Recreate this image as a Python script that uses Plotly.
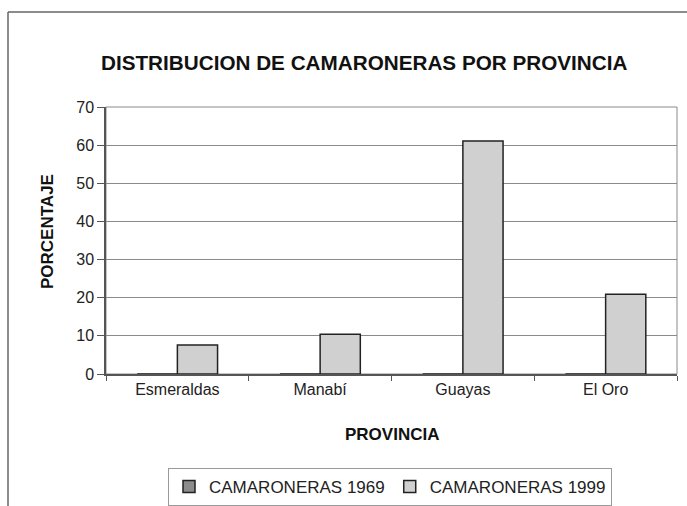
import plotly.graph_objects as go

provincias = ["Esmeraldas", "Manabí", "Guayas", "El Oro"]
camaroneras_1969 = [0, 0, 0, 0]
camaroneras_1999 = [7.6, 10.4, 61.1, 20.9]
y_ticks = [0, 10, 20, 30, 40, 50, 60, 70]

W, H = 687, 506
L, R, T, B = 106, 10, 107, 132
pw, ph = W - L - R, H - T - B

def px(x):
    return (x - L) / pw

def py(y):
    return (H - B - y) / ph

fig = go.Figure()
fig.add_trace(go.Bar(
    x=provincias, y=camaroneras_1969, name="CAMARONERAS 1969",
    marker=dict(color="#8c8c8c", line=dict(color="#222222", width=1.5)),
))
fig.add_trace(go.Bar(
    x=provincias, y=camaroneras_1999, name="CAMARONERAS 1999",
    marker=dict(color="#d0d0d0", line=dict(color="#222222", width=1.5)),
))

font = "Arial, Liberation Sans, sans-serif"
fig.update_layout(
    width=W, height=H,
    margin=dict(l=L, r=R, t=T, b=B, autoexpand=False),
    paper_bgcolor="white", plot_bgcolor="white",
    barmode="group", bargap=0.437, bargroupgap=0,
    font=dict(family=font, color="#222222", size=16),
    showlegend=True,
    legend=dict(
        orientation="h", x=px(390), xanchor="center", y=py(487), yanchor="middle",
        bordercolor="#9a9a9a", borderwidth=1, font=dict(size=17, color="#222222"),
        itemwidth=30, tracegroupgap=0,
    ),
    xaxis=dict(
        type="category", showline=True, linecolor="#555555", linewidth=1.5,
        ticks="outside", tickson="boundaries", ticklen=5, tickcolor="#555555",
        tickfont=dict(size=16, color="#222222"), mirror=False,
        showgrid=False, zeroline=False,
    ),
    yaxis=dict(
        range=[0, 70], tickvals=y_ticks, showline=True, linecolor="#555555", linewidth=1.5,
        ticks="outside", ticklen=7, tickcolor="#555555",
        gridcolor="#8a8a8a", gridwidth=1, showgrid=True, zeroline=False,
        tickfont=dict(size=16, color="#222222"),
    ),
    shapes=[
        dict(type="rect", xref="paper", yref="paper", x0=0, x1=1, y0=0, y1=1,
             line=dict(color="#8a8a8a", width=1), layer="below"),
        dict(type="line", xref="paper", yref="paper", x0=px(8), x1=px(700), y0=py(12), y1=py(12),
             line=dict(color="#666666", width=1.5)),
        dict(type="line", xref="paper", yref="paper", x0=px(8), x1=px(8), y0=py(12), y1=py(520),
             line=dict(color="#666666", width=1.5)),
    ],
    annotations=[
        dict(text="<b>DISTRIBUCION DE CAMARONERAS POR PROVINCIA</b>", xref="paper", yref="paper",
             x=px(364), y=py(62), xanchor="center", yanchor="middle", showarrow=False,
             font=dict(size=20.7, color="#111111")),
        dict(text="<b>PORCENTAJE</b>", xref="paper", yref="paper", textangle=-90,
             x=px(47), y=py(232), xanchor="center", yanchor="middle", showarrow=False,
             font=dict(size=17, color="#111111")),
        dict(text="<b>PROVINCIA</b>", xref="paper", yref="paper",
             x=px(392), y=py(435), xanchor="center", yanchor="middle", showarrow=False,
             font=dict(size=17, color="#111111")),
    ],
)

fig.write_html("out.html", config={"displayModeBar": False},
               post_script="document.body.style.margin='0';document.body.style.overflow='hidden';")
